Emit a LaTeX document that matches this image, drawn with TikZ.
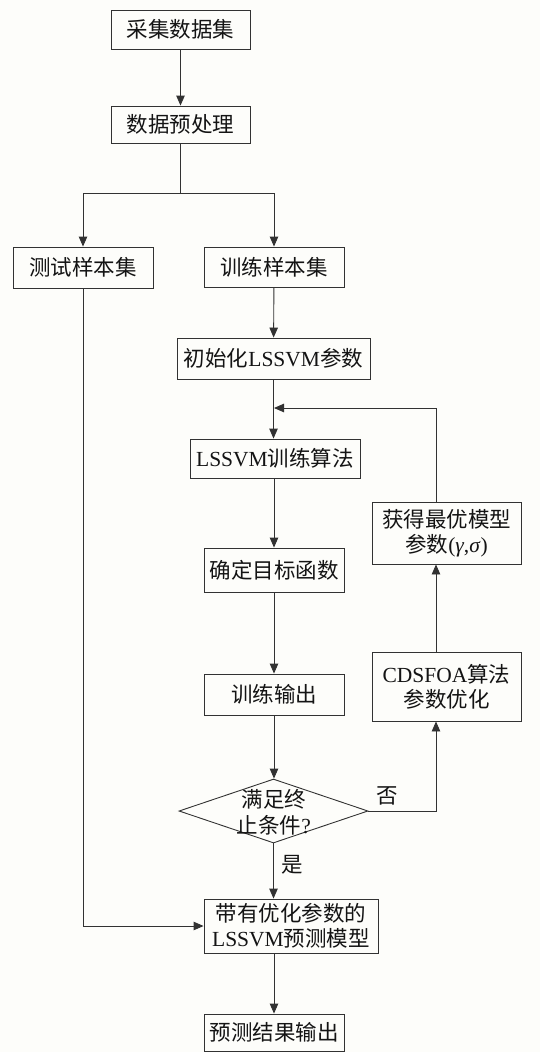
\documentclass[tikz,border=0pt]{standalone}
\usepackage{fontspec}
\setmainfont{Liberation Serif}
\newfontfamily\cjk{Noto Sans CJK SC}
\usetikzlibrary{shapes.geometric,arrows.meta}
\definecolor{bgc}{RGB}{253,253,250}
\definecolor{linec}{RGB}{50,50,50}
\definecolor{textc}{RGB}{20,20,20}
\begin{document}
\begin{tikzpicture}[x=1pt,y=-1pt,
  box/.style={draw=linec, line width=0.9pt, rectangle, inner sep=0pt, align=center,
    font=\fontsize{21.5}{25}\selectfont, text=textc},
  arr/.style={draw=linec, line width=0.9pt, -{Triangle[length=10pt,width=8.5pt]}},
  ln/.style={draw=linec, line width=0.9pt},
  lbl/.style={inner sep=0pt, font=\fontsize{21.5}{25}\selectfont\cjk, text=textc}]
\fill[bgc] (0,0) rectangle (540,1052);
\useasboundingbox (0,0) rectangle (540,1052);

\node[box, minimum width=139pt, minimum height=39pt] (a) at (180.5,29.5) {\cjk 采集数据集};
\node[box, minimum width=139pt, minimum height=37pt] (b) at (180.5,124.5) {\cjk 数据预处理};
\node[box, minimum width=140pt, minimum height=41pt] (test) at (83,267.5) {\cjk 测试样本集};
\node[box, minimum width=140pt, minimum height=40pt] (train) at (274,267) {\cjk 训练样本集};
\node[box, minimum width=193pt, minimum height=41pt] (init) at (273.5,358.5) {{\cjk 初始化}LSSVM{\cjk 参数}};
\node[box, minimum width=170pt, minimum height=39pt] (alg) at (275,458.5) {LSSVM{\cjk 训练算法}};
\node[box, minimum width=149pt, minimum height=62pt] (best) at (446.5,533) {{\cjk 获得最优模型}\\{\cjk 参数}(\textit{γ},\textit{σ})};
\node[box, minimum width=140pt, minimum height=44pt] (obj) at (274,570) {\cjk 确定目标函数};
\node[box, minimum width=140pt, minimum height=41pt] (out) at (274,694.5) {\cjk 训练输出};
\node[box, minimum width=149pt, minimum height=69pt] (opt) at (446.5,686.5) {CDSFOA{\cjk 算法}\\{\cjk 参数优化}};
\node[draw=linec, line width=0.9pt, diamond, inner sep=0pt, minimum width=189pt, minimum height=64pt] (d) at (273.5,811) {};
\node[box, draw=none, font=\fontsize{21.5}{26}\selectfont] (dt) at (274,812) {{\cjk 满足终}\\{\cjk 止条件}?};
\node[box, minimum width=174pt, minimum height=54pt] (model) at (291,926) {{\cjk 带有优化参数的}\\LSSVM{\cjk 预测模型}};
\node[box, minimum width=140pt, minimum height=37pt] (res) at (274,1032.5) {\cjk 预测结果输出};

\coordinate (s) at (180.5,193);
\coordinate (fx) at (436,0);
\coordinate (j) at (274,408);

\draw[arr] (a) -- (b);
\draw[ln] (b.south) -- (s);
\draw[arr] (s) -| (test.north);
\draw[arr] (s) -| (train.north);
\draw[arr] (train) -- (init);
\draw[arr] (init.south) -- (alg.north -| init.south);
\draw[arr] (alg.south -| obj.north) -- (obj.north);
\draw[arr] (obj) -- (out);
\draw[arr] (out.south) -- (d.north -| out.south);
\draw[arr] (d.south) -- (model.north -| d.south);
\draw[arr] (model.south -| res.north) -- (res.north);
\draw[arr] (d.east) -| (opt.south -| fx);
\draw[arr] (opt.north -| fx) -- (best.south -| fx);
\draw[arr] (best.north -| fx) |- (j);
\draw[arr] (test.south) |- (model.west);

\node[lbl] (yes) at (292.5,865) {是};
\node[lbl] (no) at (387,796) {否};
\end{tikzpicture}
\end{document}
